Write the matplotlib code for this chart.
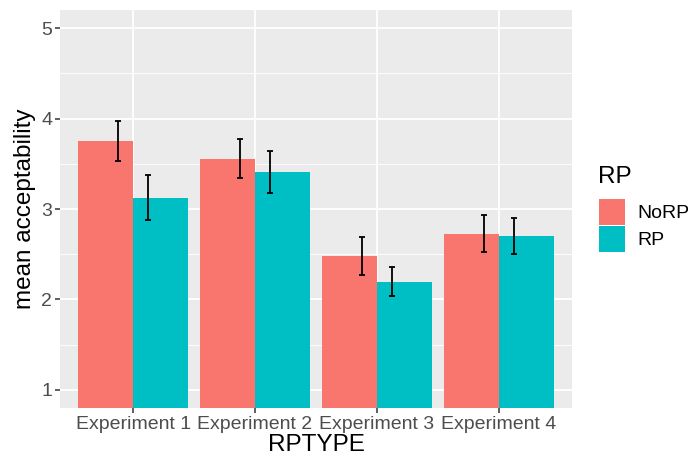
import numpy as np
import matplotlib.pyplot as plt
from matplotlib.patches import Patch

# data
experiments = ['Experiment 1', 'Experiment 2', 'Experiment 3', 'Experiment 4']
groups = ['NoRP', 'RP']
norp_mean = [3.75, 3.555, 2.48, 2.725]
norp_err = [0.22, 0.215, 0.205, 0.205]
rp_mean = [3.125, 3.41, 2.195, 2.70]
rp_err = [0.25, 0.23, 0.16, 0.20]
colors = ['#F8766D', '#00BFC4']

plt.rcParams['font.family'] = ['Liberation Sans', 'DejaVu Sans']

fig = plt.figure(figsize=(6.88, 4.58), dpi=100)
ax = fig.add_axes([60 / 688, 50 / 458, 512 / 688, 398 / 458])
ax.set_facecolor('#EBEBEB')

x = np.arange(1, len(experiments) + 1)
bw = 0.45
# bars start from 0, axis clipped at 1 like coord_cartesian
ax.bar(x - bw / 2, norp_mean, width=bw, color=colors[0], zorder=2)
ax.bar(x + bw / 2, rp_mean, width=bw, color=colors[1], zorder=2)
ax.errorbar(x - 0.125, norp_mean, yerr=norp_err, fmt='none', ecolor='black',
            elinewidth=1.3, capsize=2.3, capthick=1.3, zorder=3)
ax.errorbar(x + 0.125, rp_mean, yerr=rp_err, fmt='none', ecolor='black',
            elinewidth=1.3, capsize=2.3, capthick=1.3, zorder=3)

ax.set_xlim(0.4, 4.6)
ax.set_ylim(0.8, 5.2)
ax.set_yticks([1, 2, 3, 4, 5])
ax.set_yticks([1.5, 2.5, 3.5, 4.5], minor=True)
ax.set_xticks(x)
ax.set_xticklabels(experiments)
ax.grid(True, which='major', color='white', linewidth=1.3, zorder=0)
ax.grid(True, which='minor', axis='y', color='white', linewidth=0.6, zorder=0)
ax.set_axisbelow(True)
for s in ax.spines.values():
    s.set_visible(False)
ax.tick_params(axis='both', which='major', length=3.5, width=1.1, color='#333333',
               labelsize=14, labelcolor='#4D4D4D', pad=2)
ax.tick_params(axis='both', which='minor', length=0)

ax.set_xlabel('RPTYPE', fontsize=17.5, labelpad=1)
ax.set_ylabel('mean acceptability', fontsize=17.5, labelpad=4)

# legend: title as separate text so the gap matches ggplot
fig.text(598 / 688, 1 - 183 / 458, 'RP', fontsize=17.5, ha='left', va='baseline')
handles = [Patch(facecolor=c, edgecolor='none') for c in colors]
leg = fig.legend(handles, groups, loc='upper left',
                 bbox_to_anchor=(599 / 688, 1 - 199 / 458), frameon=False,
                 fontsize=14, handlelength=1.35, handleheight=1.65,
                 handletextpad=0.62, labelspacing=0.08, borderpad=0,
                 borderaxespad=0)

fig.savefig('out.png', dpi=100)
